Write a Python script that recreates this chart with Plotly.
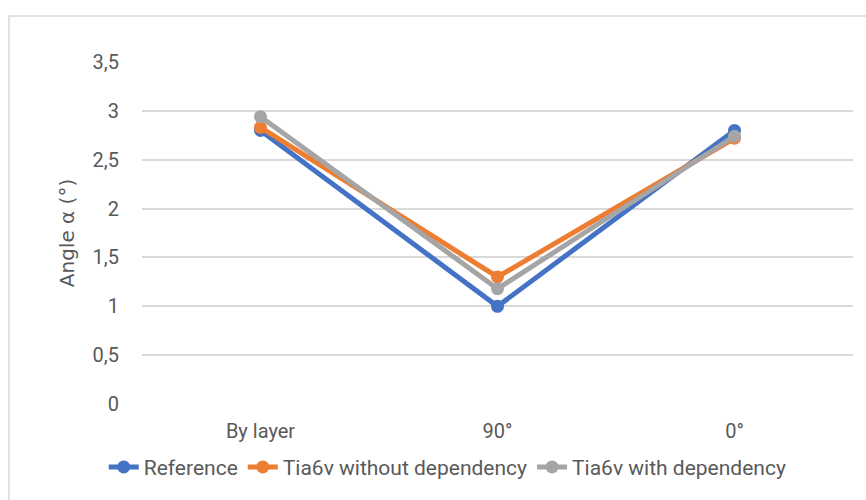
import plotly.graph_objects as go

categories = ["By layer", "90°", "0°"]
reference = [2.80, 1.00, 2.80]
without_dep = [2.83, 1.30, 2.72]
with_dep = [2.94, 1.18, 2.74]
series_names = ["Reference", "Tia6v without dependency", "Tia6v with dependency"]
colors = ["#4472C4", "#ED7D31", "#A5A5A5"]
y_ticks = [0, 0.5, 1, 1.5, 2, 2.5, 3, 3.5]
y_tick_labels = ["0", "0,5", "1", "1,5", "2", "2,5", "3", "3,5"]

font_main = "Roboto, Arial"
fig = go.Figure()
for name, vals, col in zip(series_names, [reference, without_dep, with_dep], colors):
    fig.add_trace(go.Scatter(x=categories, y=vals, name=name, mode="lines+markers",
                             line=dict(color=col, width=5),
                             marker=dict(color=col, size=13)))

fig.update_layout(
    width=866, height=500,
    margin=dict(l=142, r=13, t=62, b=96, autoexpand=False),
    paper_bgcolor="white", plot_bgcolor="white",
    font=dict(family=font_main, color="#595959", size=20),
    showlegend=True,
    legend=dict(orientation="h", x=0.43, xanchor="center", y=-0.125, yanchor="top",
                font=dict(size=21, color="#595959"), itemwidth=30, tracegroupgap=0,
                bgcolor="rgba(0,0,0,0)"),
    xaxis=dict(range=[-0.5, 2.5], showgrid=False, zeroline=False, showline=False, ticks="",
               tickfont=dict(size=20, color="#595959"), ticklabelstandoff=13, automargin=False),
    yaxis=dict(range=[0, 3.5], tickvals=y_ticks, ticktext=y_tick_labels,
               showgrid=True, gridcolor="#D9D9D9", gridwidth=1.5, zeroline=False,
               showline=False, ticks="", tickfont=dict(size=20, color="#595959"),
               ticklabelstandoff=22, automargin=False,
               title=dict(text="Angle α (°)", font=dict(family="DejaVu Sans, Open Sans", size=20, color="#595959"), standoff=12)),
    shapes=[dict(type="rect", xref="paper", yref="paper",
                 x0=(9 - 142) / 711, x1=(880 - 142) / 711,
                 y0=(404 - 520) / 342, y1=(404 - 16) / 342,
                 line=dict(color="#D9D9D9", width=1.5), fillcolor="rgba(0,0,0,0)", layer="below")],
)
fig.write_html("out.html", config={"displayModeBar": False},
               post_script="document.body.style.margin='0';document.body.style.overflow='hidden';")
